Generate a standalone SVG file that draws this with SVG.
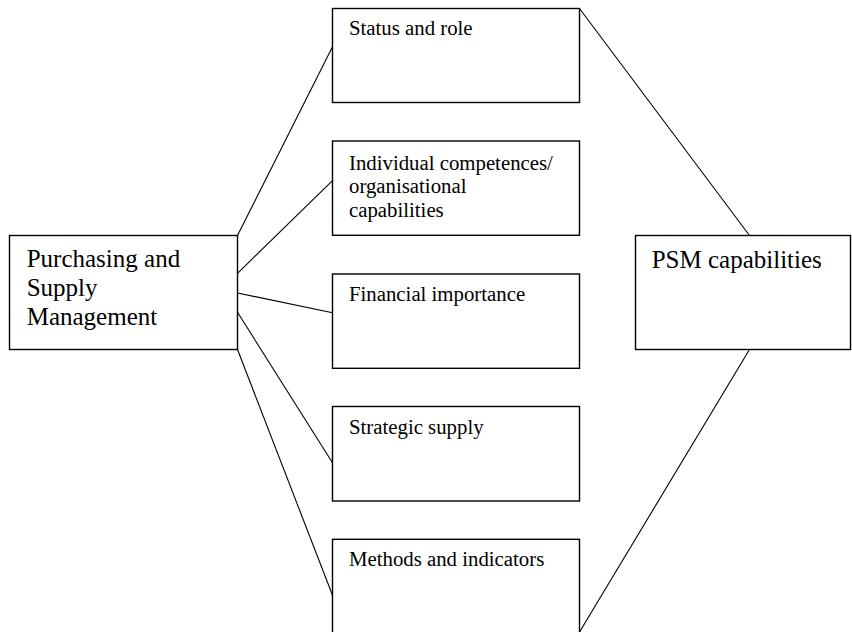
<svg xmlns="http://www.w3.org/2000/svg" width="852" height="632" viewBox="0 0 852 632">
  <style>
    .box { fill: #ffffff; stroke: #000000; stroke-width: 1.4; }
    .link { stroke: #000000; stroke-width: 1.1; fill: none; }
    .lbl { font-family: "Liberation Serif", "Times New Roman", serif; fill: #000000; }
    .big { font-size: 25px; }
    .small { font-size: 20.8px; }
  </style>
  <rect width="852" height="632" fill="#ffffff"/>

  <!-- connectors -->
  <g id="connectors">
    <line class="link" x1="237.5" y1="235.5" x2="332.5" y2="46.7"/>
    <line class="link" x1="237.5" y1="273.3" x2="332.5" y2="180.7"/>
    <line class="link" x1="237.5" y1="293" x2="332.5" y2="312.7"/>
    <line class="link" x1="237.5" y1="312.3" x2="332.5" y2="462.7"/>
    <line class="link" x1="237.5" y1="349.5" x2="332.5" y2="595.3"/>
    <line class="link" x1="579.5" y1="8.5" x2="749.5" y2="235.5"/>
    <line class="link" x1="749.5" y1="349.5" x2="579.5" y2="632"/>
  </g>

  <g id="psm">
    <rect class="box" x="9.5" y="235.5" width="228" height="114"/>
    <text class="lbl big" x="26.7" y="267">Purchasing and</text>
    <text class="lbl big" x="26.7" y="296">Supply</text>
    <text class="lbl big" x="26.7" y="325">Management</text>
  </g>

  <g id="status">
    <rect class="box" x="332.5" y="8.5" width="247" height="94"/>
    <text class="lbl small" x="349" y="35">Status and role</text>
  </g>

  <g id="competences">
    <rect class="box" x="332.5" y="141" width="247" height="94.3"/>
    <text class="lbl small" x="349" y="169.5">Individual competences/</text>
    <text class="lbl small" x="349" y="193">organisational</text>
    <text class="lbl small" x="349" y="216.5">capabilities</text>
  </g>

  <g id="financial">
    <rect class="box" x="332.5" y="274" width="247" height="94.3"/>
    <text class="lbl small" x="349" y="301">Financial importance</text>
  </g>

  <g id="strategic">
    <rect class="box" x="332.5" y="406.5" width="247" height="94.5"/>
    <text class="lbl small" x="349" y="434">Strategic supply</text>
  </g>

  <g id="methods">
    <rect class="box" x="332.5" y="539.3" width="247" height="110"/>
    <text class="lbl small" x="349" y="566">Methods and indicators</text>
  </g>

  <g id="capabilities">
    <rect class="box" x="635.5" y="235.5" width="215" height="114"/>
    <text class="lbl big" x="651.7" y="267.5">PSM capabilities</text>
  </g>
</svg>
